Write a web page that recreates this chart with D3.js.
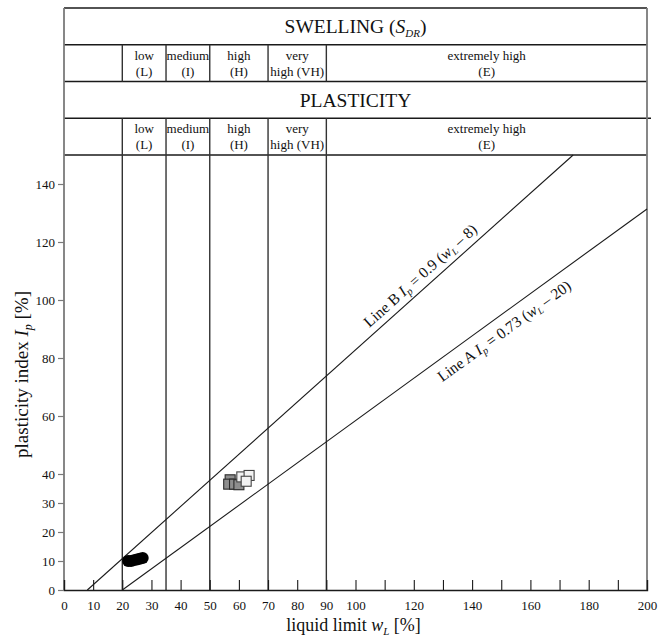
<!DOCTYPE html>
<html>
<head>
<meta charset="utf-8">
<script src="https://cdn.jsdelivr.net/npm/d3@7"></script>
<style>
  body { margin: 0; background: #fff; }
  svg { display: block; font-family: "Liberation Serif", "DejaVu Serif", serif; }
</style>
</head>
<body>
<svg id="chart" width="671" height="641"></svg>
<script>
// --- data ---
const classBounds = [20, 35, 50, 70, 90];
const classLabels = [
  ["low", "(L)"],
  ["medium", "(I)"],
  ["high", "(H)"],
  ["very", "high (VH)"],
  ["extremely high", "(E)"]
];
const xTickLabels = [0, 10, 20, 30, 40, 50, 60, 70, 80, 90, 100, 120, 140, 160, 180, 200];
const xMinorTicks = [110, 130, 150, 170, 190];
const yTickLabels = [0, 10, 20, 30, 40, 60, 80, 100, 120, 140];

// circles (black)
const circleWL = [22, 23, 24, 25, 26, 27];
const circleIP = [10, 10, 10.3, 10.5, 10.8, 11];
// squares, dark grey
const darkWL = [57, 56.5, 58.5, 60];
const darkIP = [38, 36.5, 36.5, 36.3];
// squares, light
const lightWL = [61, 63.5, 62.5];
const lightIP = [39, 39.5, 37.5];

// classification lines
const lineB = { a: 0.9, b: 8 };
const lineA = { a: 0.73, b: 20 };

const svg = d3.select("#chart");
const margin = { top: 155, right: 24, bottom: 51, left: 64 };
const W = 671, H = 641;
const width = W - margin.left - margin.right;
const height = H - margin.top - margin.bottom;
const headTop = 8;
const rowH = (margin.top - headTop) / 4;

const x = d3.scaleLinear().domain([0, 200]).range([margin.left, margin.left + width]);
const y = d3.scaleLinear().domain([0, 150]).range([margin.top + height, margin.top]);

const ink = "#1a1a1a";
const grey = "#7a7a7a";

// --- header table ---
const head = svg.append("g");
head.append("line").attr("x1", x(0)).attr("x2", x(200)).attr("y1", headTop).attr("y2", headTop)
  .attr("stroke", ink).attr("stroke-width", 1.3);
[1, 2, 3].forEach(i => {
  head.append("line").attr("x1", x(0)).attr("x2", x(200) + (i === 3 ? 4 : 0))
    .attr("y1", headTop + rowH * i).attr("y2", headTop + rowH * i)
    .attr("stroke", ink).attr("stroke-width", 1.3);
});
head.append("line").attr("x1", x(0)).attr("x2", x(200)).attr("y1", margin.top).attr("y2", margin.top)
  .attr("stroke", ink).attr("stroke-width", 1.3);

function titleRow(row, parts) {
  const t = head.append("text")
    .attr("x", x(0) + width / 2)
    .attr("y", headTop + rowH * row + rowH / 2 + 7)
    .attr("text-anchor", "middle")
    .attr("font-size", 19.5)
    .attr("fill", "#111");
  parts(t);
}
titleRow(0, t => {
  t.append("tspan").text("SWELLING (");
  t.append("tspan").attr("font-style", "italic").text("S");
  t.append("tspan").attr("font-style", "italic").attr("font-size", 11).attr("dy", 4).text("DR");
  t.append("tspan").attr("dy", -4).text(")");
});
titleRow(2, t => t.text("PLASTICITY"));

const colEdges = classBounds.concat([200]);
[1, 3].forEach(row => {
  classLabels.forEach((lab, i) => {
    const cx = (x(colEdges[i]) + x(colEdges[i + 1])) / 2;
    const t = head.append("text")
      .attr("text-anchor", "middle")
      .attr("font-size", 13)
      .attr("fill", "#111");
    t.append("tspan").attr("x", cx).attr("y", headTop + rowH * row + 15).text(lab[0]);
    t.append("tspan").attr("x", cx).attr("y", headTop + rowH * row + 31).text(lab[1]);
  });
});

// vertical class boundaries: header rows and plot area
classBounds.forEach(v => {
  [[headTop + rowH, headTop + rowH * 2], [headTop + rowH * 3, margin.top + height]].forEach(seg => {
    svg.append("line")
      .attr("x1", x(v)).attr("x2", x(v))
      .attr("y1", seg[0]).attr("y2", seg[1])
      .attr("stroke", "#333").attr("stroke-width", 1.4);
  });
});

// side borders (grey)
[0, 200].forEach(v => {
  svg.append("line").attr("x1", x(v)).attr("x2", x(v))
    .attr("y1", headTop).attr("y2", margin.top + height)
    .attr("stroke", grey).attr("stroke-width", 1.8);
});

// --- axes ---
const xAxis = svg.append("g")
  .attr("transform", `translate(0,${margin.top + height})`)
  .call(d3.axisBottom(x).tickValues(xTickLabels.concat(xMinorTicks)).tickSize(-10).tickPadding(11)
    .tickFormat(d => xTickLabels.includes(d) ? d : ""));
xAxis.select(".domain").attr("stroke", ink).attr("stroke-width", 1.4);
xAxis.selectAll(".tick line").attr("stroke", ink).attr("stroke-width", 1.1);
xAxis.selectAll(".tick").filter(d => d === 0 || d === 200).select("line").remove();
xAxis.selectAll("text").attr("font-size", 13).attr("fill", "#111")
  .attr("font-family", "Liberation Serif, serif");

const yAxis = svg.append("g")
  .attr("transform", `translate(${margin.left},0)`)
  .call(d3.axisLeft(y).tickValues(yTickLabels).tickSize(6).tickPadding(3));
yAxis.select(".domain").remove();
yAxis.selectAll(".tick line").attr("stroke", grey).attr("stroke-width", 1.2);
yAxis.selectAll("text").attr("font-size", 13).attr("fill", "#111")
  .attr("font-family", "Liberation Serif, serif");

// axis titles
const xt = svg.append("text")
  .attr("x", margin.left + width / 2 - 2).attr("y", 631)
  .attr("text-anchor", "middle").attr("font-size", 18).attr("fill", "#111");
xt.append("tspan").text("liquid limit ");
xt.append("tspan").attr("font-style", "italic").text("w");
xt.append("tspan").attr("font-style", "italic").attr("font-size", 11).attr("dy", 4).text("L");
xt.append("tspan").attr("dy", -4).text(" [%]");

const yt = svg.append("text")
  .attr("transform", `translate(28,${margin.top + height / 2 + 2}) rotate(-90)`)
  .attr("text-anchor", "middle").attr("font-size", 19).attr("fill", "#111");
yt.append("tspan").text("plasticity index ");
yt.append("tspan").attr("font-style", "italic").text("I");
yt.append("tspan").attr("font-style", "italic").attr("font-size", 12).attr("dy", 4).text("p");
yt.append("tspan").attr("dy", -4).text(" [%]");

// --- lines A and B ---
const plot = svg.append("g");
function drawLine(L) {
  const x0 = L.b;
  let x1 = L.b + 150 / L.a;
  if (x1 > 200) x1 = 200;
  const pts = [[x0, 0], [x1, L.a * (x1 - L.b)]];
  plot.append("path")
    .attr("d", d3.line().x(d => x(d[0])).y(d => y(d[1]))(pts))
    .attr("stroke", ink).attr("stroke-width", 1.1).attr("fill", "none");
}
drawLine(lineB);
drawLine(lineA);

function lineLabel(L, wl, off, name, coef) {
  const px = x(wl), py = y(L.a * (wl - L.b));
  const ang = Math.atan2(y(0) - y(L.a * 10), x(10) - x(0)) * 180 / Math.PI;
  const t = plot.append("text")
    .attr("transform", `translate(${px},${py}) rotate(${-ang})`)
    .attr("y", off)
    .attr("text-anchor", "middle").attr("font-size", 15.5).attr("fill", "#111");
  t.append("tspan").text(name + " ");
  t.append("tspan").attr("font-style", "italic").text("I");
  t.append("tspan").attr("font-style", "italic").attr("font-size", 10.5).attr("dy", 3).text("p");
  t.append("tspan").attr("dy", -3).text(" = " + coef + " (");
  t.append("tspan").attr("font-style", "italic").text("w");
  t.append("tspan").attr("font-style", "italic").attr("font-size", 9.5).attr("dy", 3).text("L");
  t.append("tspan").attr("dy", -3).text(" \u2013 " + L.b + ")");
}
lineLabel(lineB, 125, -7, "Line B", "0.9");
lineLabel(lineA, 148, 20, "Line A", "0.73");

// --- data points ---
const sq = 10;
plot.selectAll(".dark").data(d3.range(darkWL.length)).enter().append("rect")
  .attr("x", i => x(darkWL[i]) - sq / 2).attr("y", i => y(darkIP[i]) - sq / 2)
  .attr("width", sq).attr("height", sq)
  .attr("fill", "#8e8e8e").attr("stroke", "#2a2a2a").attr("stroke-width", 1.1);
plot.selectAll(".light").data(d3.range(lightWL.length)).enter().append("rect")
  .attr("x", i => x(lightWL[i]) - sq / 2).attr("y", i => y(lightIP[i]) - sq / 2)
  .attr("width", sq).attr("height", sq)
  .attr("fill", "#f2f2f2").attr("stroke", "#444").attr("stroke-width", 1.1);
plot.selectAll(".circ").data(d3.range(circleWL.length)).enter().append("circle")
  .attr("cx", i => x(circleWL[i])).attr("cy", i => y(circleIP[i]))
  .attr("r", 6).attr("fill", "#000");
</script>
</body>
</html>
